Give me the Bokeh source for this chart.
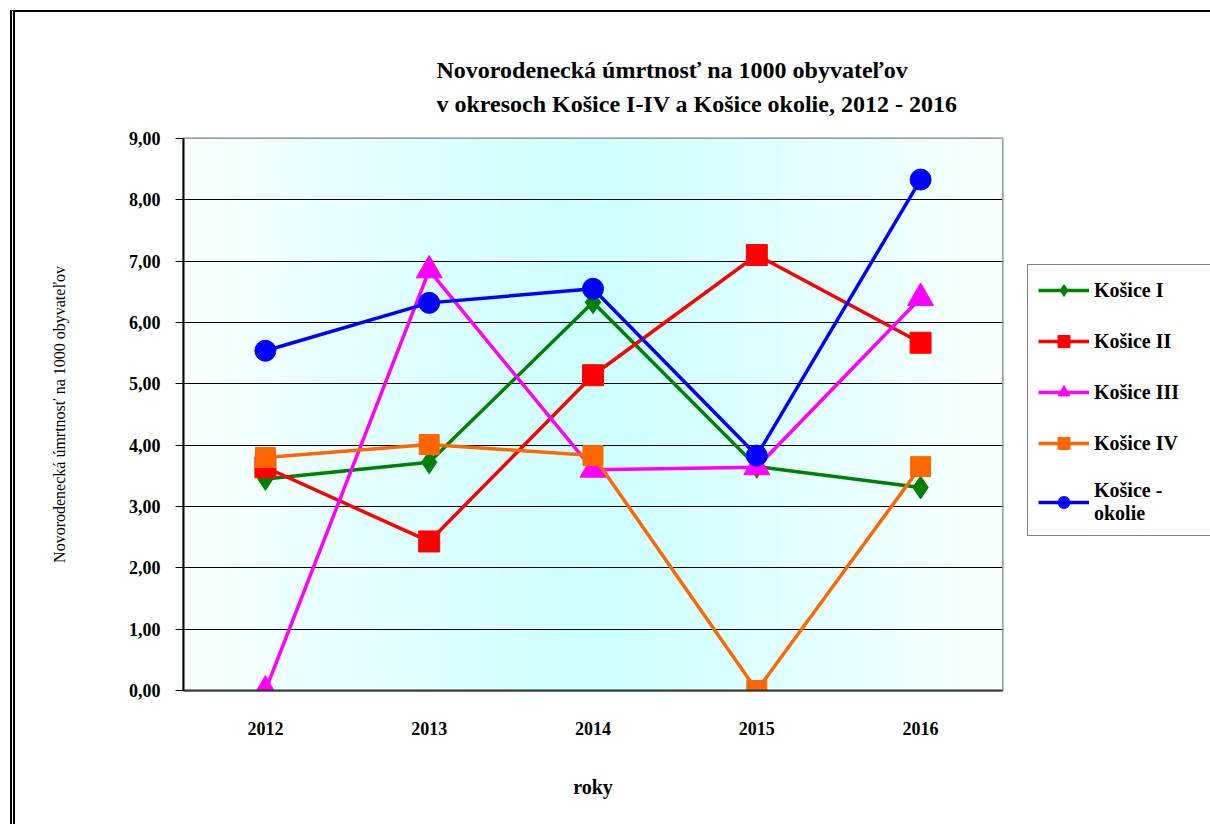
import numpy as np
from bokeh.plotting import figure
from bokeh.models import (FactorRange, Range1d, FixedTicker, CustomJSTickFormatter,
                          Legend, LegendItem, Title)
from bokeh.embed import file_html
from bokeh.resources import INLINE

# ---- data ----
years = ["2012", "2013", "2014", "2015", "2016"]
kosice_1 = [3.45, 3.72, 6.33, 3.65, 3.31]
kosice_2 = [3.64, 2.43, 5.14, 7.10, 5.67]
kosice_3 = [0.00, 6.85, 3.60, 3.64, 6.40]
kosice_4 = [3.80, 4.01, 3.83, 0.00, 3.65]
kosice_okolie = [5.54, 6.32, 6.55, 3.83, 8.33]
y_ticks = [0, 1, 2, 3, 4, 5, 6, 7, 8, 9]

title_1 = "Novorodenecká úmrtnosť na 1000 obyvateľov"
title_2 = "v okresoch Košice I-IV a Košice okolie, 2012 - 2016"
y_label = "Novorodenecká úmrtnosť na 1000 obyvateľov"
x_label = "roky"
names = ["Košice I", "Košice II", "Košice III", "Košice IV", "Košice -\nokolie"]

SERIF = "Liberation Serif"

p = figure(x_range=FactorRange(*years), y_range=Range1d(0, 9),
           frame_width=819, frame_height=552,
           min_border_left=168, min_border_right=207,
           min_border_top=126, min_border_bottom=134,
           output_backend="svg", toolbar_location=None)
p.styles = {"margin-left": "10px", "margin-top": "10px",
            "border-left": "5px double black", "border-top": "2px solid black"}
p.background_fill_color = "white"
p.border_fill_color = "white"
p.outline_line_color = "#808080"
p.outline_line_width = 2

# horizontal gradient background of the plot area
n = 400
t = np.linspace(0.0, 1.0, n)
w = 1.0 - np.abs(t - 0.5) * 2.0
edge = np.array([248, 255, 255], dtype=float)
center = np.array([204, 255, 255], dtype=float)
rgb = edge[None, :] + (center - edge)[None, :] * w[:, None]
img = np.zeros((1, n), dtype=np.uint32)
view = img.view(dtype=np.uint8).reshape((1, n, 4))
view[0, :, 0] = rgb[:, 0].astype(np.uint8)
view[0, :, 1] = rgb[:, 1].astype(np.uint8)
view[0, :, 2] = rgb[:, 2].astype(np.uint8)
view[0, :, 3] = 255
p.image_rgba(image=[img], x=0, y=0, dw=5, dh=9, level="image")

# grid
p.xgrid.grid_line_color = None
p.ygrid.ticker = FixedTicker(ticks=y_ticks)
p.ygrid.grid_line_color = "black"
p.ygrid.grid_line_width = 1.2

# axes
p.yaxis.ticker = FixedTicker(ticks=y_ticks)
p.yaxis.formatter = CustomJSTickFormatter(code="return tick.toFixed(2).replace('.', ',');")
p.yaxis.axis_line_color = "black"
p.yaxis.axis_line_width = 2
p.yaxis.major_tick_in = 0
p.yaxis.major_tick_out = 8
p.yaxis.major_tick_line_color = "black"
p.yaxis.minor_tick_line_color = None
p.yaxis.major_label_standoff = 15
p.yaxis.major_label_text_font = SERIF
p.yaxis.major_label_text_font_style = "bold"
p.yaxis.major_label_text_font_size = "18px"
p.yaxis.major_label_text_color = "black"
p.yaxis.axis_label = y_label
p.yaxis.axis_label_text_font = SERIF
p.yaxis.axis_label_text_font_style = "normal"
p.yaxis.axis_label_text_font_size = "16px"
p.yaxis.axis_label_text_color = "black"
p.yaxis.axis_label_standoff = 58

p.xaxis.axis_line_color = "#333333"
p.xaxis.axis_line_width = 2
p.xaxis.major_tick_line_color = None
p.xaxis.minor_tick_line_color = None
p.xaxis.major_label_standoff = 25
p.xaxis.major_label_text_font = SERIF
p.xaxis.major_label_text_font_style = "bold"
p.xaxis.major_label_text_font_size = "18px"
p.xaxis.major_label_text_color = "black"
p.xaxis.axis_label = x_label
p.xaxis.axis_label_text_font = SERIF
p.xaxis.axis_label_text_font_style = "bold"
p.xaxis.axis_label_text_font_size = "20px"
p.xaxis.axis_label_text_color = "black"
p.xaxis.axis_label_standoff = 38

series = [
    (kosice_1, "#008000", "diamond", 23),
    (kosice_2, "#FF0000", "square", 21),
    (kosice_3, "#FF00FF", "triangle", 26),
    (kosice_4, "#FF6600", "square", 20),
    (kosice_okolie, "#0000FF", "circle", 21),
]

items = []
for name, (vals, color, marker, size) in zip(names, series):
    rl = p.line(years, vals, line_color=color, line_width=3.5)
    rs = p.scatter(years, vals, marker=marker, size=size,
                   fill_color=color, line_color=color)
    items.append(LegendItem(label=name, renderers=[rl, rs]))

legend = Legend(items=items, location=(25, 154),
                glyph_width=51, glyph_height=30, label_height=18,
                label_width=125, spacing=21, padding=10, margin=0,
                label_standoff=5,
                border_line_color="black", border_line_width=1,
                background_fill_color="white",
                label_text_font=SERIF, label_text_font_style="bold",
                label_text_font_size="20px", label_text_color="black",
                label_text_line_height=1.3)
p.add_layout(legend, "right")

# two-line title
p.title.visible = False
p.add_layout(Title(text=title_1 + "\n" + title_2, align="left", offset=253,
                   standoff=42, vertical_align="bottom",
                   text_font=SERIF, text_font_style="bold",
                   text_font_size="24px", text_line_height=1.33,
                   text_color="black"), "above")

open("out.html", "w").write(file_html(p, INLINE))
